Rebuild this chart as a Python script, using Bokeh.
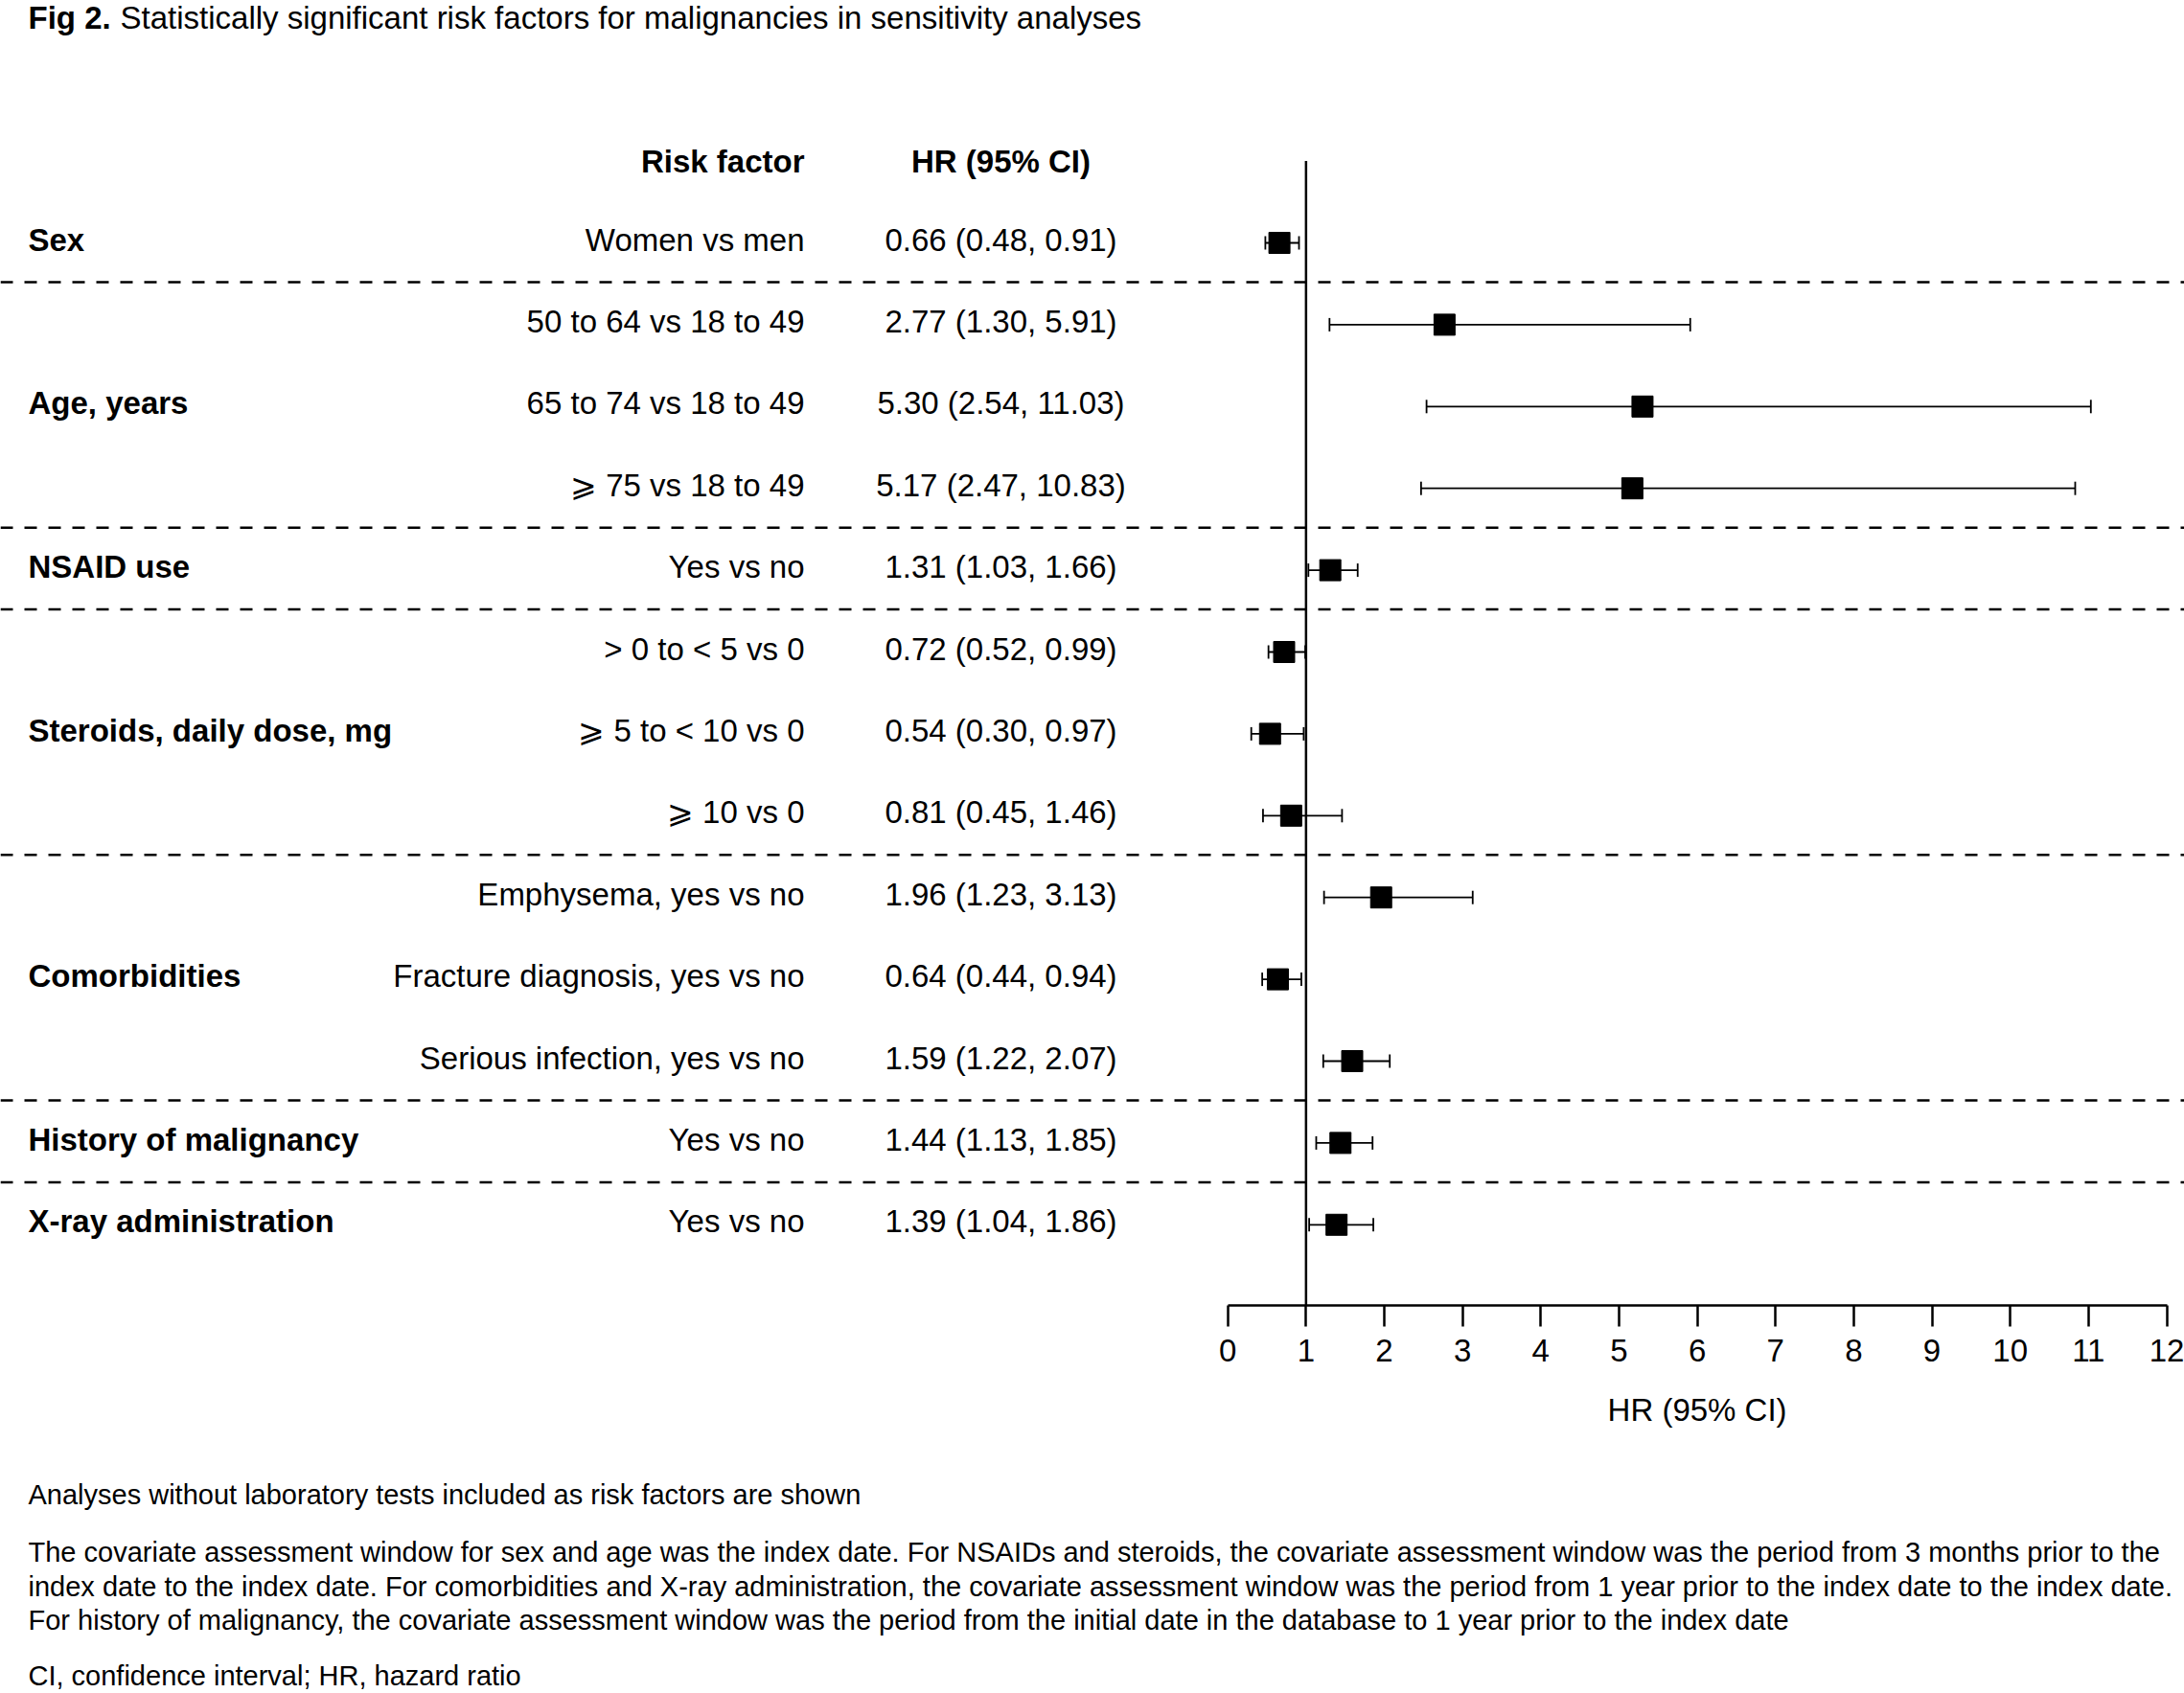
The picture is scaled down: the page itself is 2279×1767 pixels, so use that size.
from bokeh.plotting import figure
from bokeh.models import Range1d, Span, Whisker, ColumnDataSource, FixedTicker, TeeHead
from bokeh.layouts import column
from bokeh.embed import file_html
from bokeh.resources import INLINE
from bokeh.core.properties import value

# ---------------- data ----------------
groups = ["Sex", "Age, years", "NSAID use", "Steroids, daily dose, mg",
          "Comorbidities", "History of malignancy", "X-ray administration"]
group_sizes = [1, 3, 1, 3, 3, 1, 1]
factors = ["Women vs men",
           "50 to 64 vs 18 to 49", "65 to 74 vs 18 to 49", "\u2a7e 75 vs 18 to 49",
           "Yes vs no",
           "> 0 to < 5 vs 0", "\u2a7e 5 to < 10 vs 0", "\u2a7e 10 vs 0",
           "Emphysema, yes vs no", "Fracture diagnosis, yes vs no", "Serious infection, yes vs no",
           "Yes vs no",
           "Yes vs no"]
hr = [0.66, 2.77, 5.30, 5.17, 1.31, 0.72, 0.54, 0.81, 1.96, 0.64, 1.59, 1.44, 1.39]
lower = [0.48, 1.30, 2.54, 2.47, 1.03, 0.52, 0.30, 0.45, 1.23, 0.44, 1.22, 1.13, 1.04]
upper = [0.91, 5.91, 11.03, 10.83, 1.66, 0.99, 0.97, 1.46, 3.13, 0.94, 2.07, 1.85, 1.86]
x_ticks = list(range(0, 13))

title_bold = "Fig 2."
title_rest = "Statistically significant risk factors for malignancies in sensitivity analyses"
header_factor = "Risk factor"
header_hr = "HR (95% CI)"
axis_title = "HR (95% CI)"
notes = [
    "Analyses without laboratory tests included as risk factors are shown",
    "The covariate assessment window for sex and age was the index date. For NSAIDs and steroids, the covariate assessment window was the period from 3 months prior to the",
    "index date to the index date. For comorbidities and X-ray administration, the covariate assessment window was the period from 1 year prior to the index date to the index date.",
    "For history of malignancy, the covariate assessment window was the period from the initial date in the database to 1 year prior to the index date",
    "CI, confidence interval; HR, hazard ratio",
]

# ---------------- layout constants ----------------
FONT = value("Liberation Sans")
FS = "33px"
NOTE_FS = "29px"
W = 2279
TOTAL_H = 1767
FRAME_H = 1362
AXIS_PANEL = 80
TOP_H = FRAME_H + AXIS_PANEL
PX = 81.65      # px per HR unit
X0 = 1280.7     # canvas x of HR = 0
ROW0 = 253.0    # canvas y of first row
ROW = 85.4      # px per row


def xc(cx):
    return (cx - X0) / PX


def yc(cy):
    return (cy - ROW0) / ROW


p = figure(width=W, height=TOP_H, output_backend="svg", toolbar_location=None,
           x_range=Range1d(xc(0), xc(W)), y_range=Range1d(yc(FRAME_H), yc(0)),
           y_axis_location=None, min_border_left=0, min_border_right=0,
           min_border_top=0, min_border_bottom=AXIS_PANEL)
p.grid.visible = False
p.outline_line_color = None
p.background_fill_color = "white"
p.border_fill_color = "white"

ax = p.xaxis[0]
ax.ticker = FixedTicker(ticks=x_ticks)
ax.bounds = (x_ticks[0], x_ticks[-1])
ax.axis_line_width = 2.5
ax.axis_line_color = "black"
ax.major_tick_line_width = 2.5
ax.major_tick_line_color = "black"
ax.major_tick_in = 0
ax.major_tick_out = 22
ax.minor_tick_line_color = None
ax.major_label_text_font = "Liberation Sans"
ax.major_label_text_font_size = FS
ax.major_label_text_color = "black"
ax.major_label_standoff = 13

rows = list(range(len(factors)))
hr_text = [f"{h:.2f} ({lo:.2f}, {hi:.2f})" for h, lo, hi in zip(hr, lower, upper)]
src = ColumnDataSource(dict(y=rows, ty=[r - 0.04 for r in rows], hr=hr, lo=lower, hi=upper,
                            factor=factors, hrt=hr_text))

# group labels and separators
g_y = []
seps = []
start = 0
for n in group_sizes:
    g_y.append(start + (n - 1) / 2 - 0.04)
    start += n
    seps.append(start - 0.5 - 0.02)
seps = seps[:-1]

for s in seps:
    p.add_layout(Span(location=s, dimension="width", line_color="black",
                      line_width=2.5, line_dash="13 12"))

# reference line at HR = 1
p.segment(x0=[1], y0=[-1], x1=[1], y1=[yc(FRAME_H)], line_color="black", line_width=2.5)

# title
p.text(x=[xc(29)], y=[yc(18)], text=[title_bold], text_font=FONT, text_font_size=FS,
       text_font_style="bold", text_baseline="middle", text_align="left", text_color="black")
p.text(x=[xc(29 + 96)], y=[yc(18)], text=[title_rest], text_font=FONT, text_font_size=FS,
       text_baseline="middle", text_align="left", text_color="black")

# headers
p.text(x=[xc(839)], y=[-1.0], text=[header_factor], text_font=FONT, text_font_size=FS,
       text_font_style="bold", text_baseline="middle", text_align="right", text_color="black")
p.text(x=[xc(1044)], y=[-1.0], text=[header_hr], text_font=FONT, text_font_size=FS,
       text_font_style="bold", text_baseline="middle", text_align="center", text_color="black")

# group labels
p.text(x=[xc(29)] * len(groups), y=g_y, text=groups, text_font=FONT, text_font_size=FS,
       text_font_style="bold", text_baseline="middle", text_align="left", text_color="black")

# factor labels & HR text
p.text(x=xc(839), y="ty", text="factor", source=src, text_font=FONT, text_font_size=FS,
       text_baseline="middle", text_align="right", text_color="black")
p.text(x=xc(1044), y="ty", text="hrt", source=src, text_font=FONT, text_font_size=FS,
       text_baseline="middle", text_align="center", text_color="black")

# CIs and points
wh = Whisker(source=src, base="y", lower="lo", upper="hi", dimension="width",
             line_color="black", line_width=1.8,
             upper_head=TeeHead(size=14, line_width=1.8, line_color="black"),
             lower_head=TeeHead(size=14, line_width=1.8, line_color="black"))
p.add_layout(wh)
p.scatter(x="hr", y="y", source=src, marker="square", size=22,
          fill_color="black", line_color="black")

# ---------------- axis title + footnotes ----------------
FOOT_H = TOTAL_H - TOP_H
p2 = figure(width=W, height=FOOT_H, output_backend="svg", toolbar_location=None,
            x_range=Range1d(0, W), y_range=Range1d(TOP_H + FOOT_H, TOP_H),
            x_axis_location=None, y_axis_location=None, min_border=0)
p2.grid.visible = False
p2.outline_line_color = None
p2.text(x=[X0 + PX * (x_ticks[0] + x_ticks[-1]) / 2], y=[1471], text=[axis_title],
        text_font=FONT, text_font_size=FS, text_baseline="middle", text_align="center",
        text_color="black")
note_y = [1559, 1619, 1655, 1690, 1748]
p2.text(x=[29] * len(notes), y=note_y, text=notes, text_font=FONT, text_font_size=NOTE_FS,
        text_baseline="middle", text_align="left", text_color="black")

layout = column(p, p2, spacing=0)
open("out.html", "w").write(file_html(layout, INLINE))
